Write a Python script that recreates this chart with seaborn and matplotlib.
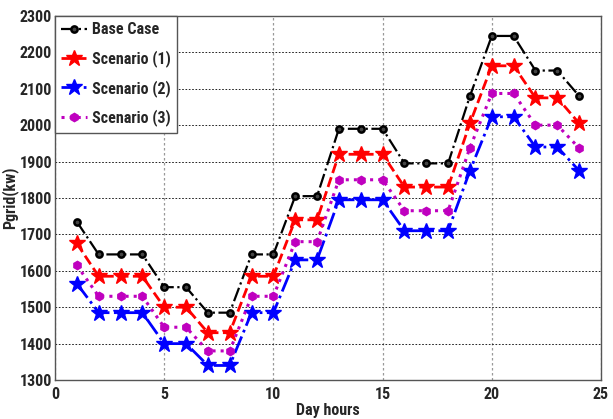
import numpy as np
import pandas as pd
import matplotlib
matplotlib.use('Agg')
import matplotlib.pyplot as plt
import seaborn as sns
from matplotlib import font_manager

# data
hours = list(range(1, 25))
base_case = [1735, 1645, 1645, 1645, 1555, 1555, 1485, 1485, 1645, 1645, 1805, 1805,
             1990, 1990, 1990, 1895, 1895, 1895, 2080, 2245, 2245, 2150, 2150, 2080]
scenario_1 = [1675, 1585, 1585, 1585, 1500, 1500, 1430, 1430, 1585, 1585, 1740, 1740,
              1920, 1920, 1920, 1830, 1830, 1830, 2005, 2163, 2163, 2075, 2075, 2005]
scenario_2 = [1565, 1485, 1485, 1485, 1400, 1400, 1340, 1340, 1485, 1485, 1630, 1630,
              1795, 1795, 1795, 1710, 1710, 1710, 1875, 2023, 2023, 1940, 1940, 1875]
scenario_3 = [1615, 1530, 1530, 1530, 1445, 1445, 1380, 1380, 1530, 1530, 1680, 1680,
              1850, 1850, 1850, 1765, 1765, 1765, 1938, 2087, 2087, 2000, 2000, 1937]
series_names = ['Base Case', 'Scenario (1)', 'Scenario (2)', 'Scenario (3)']


def pick_font():
    # narrow bold font if there is one, else condensed DejaVu
    have = {f.name for f in font_manager.fontManager.ttflist}
    for fam in ['Liberation Sans Narrow', 'Roboto Condensed', 'Open Sans Condensed']:
        if fam in have:
            return fam, 'normal'
    return 'DejaVu Sans', 'condensed'


def main():
    sns.set_style('white')
    fam, stretch = pick_font()
    plt.rcParams['font.family'] = [fam, 'DejaVu Sans']
    plt.rcParams['font.stretch'] = stretch
    plt.rcParams['font.weight'] = 'bold'
    fs = 11.5 if stretch == 'normal' else 10

    df = pd.DataFrame({
        'hour': hours * 4,
        'pgrid': base_case + scenario_1 + scenario_2 + scenario_3,
        'series': sum([[n] * len(hours) for n in series_names], []),
    })

    styles = {
        'Base Case': dict(color='black', ls='-.', marker='o', ms=4.5, mfc='#444444', mew=1.8, lw=1.6),
        'Scenario (1)': dict(color='red', ls='--', marker='*', ms=12, lw=2.0),
        'Scenario (2)': dict(color='blue', ls='-.', marker='*', ms=12, lw=2.0),
        'Scenario (3)': dict(color='m', ls=':', marker='h', ms=6, lw=2.2),
    }

    fig = plt.figure(figsize=(6.13, 4.19), dpi=100)
    ax = fig.add_axes([0.0897, 0.093, 0.8907, 0.869])

    for name in series_names:
        st = styles[name]
        sns.lineplot(data=df[df['series'] == name], x='hour', y='pgrid', ax=ax,
                     color=st['color'], linestyle=st['ls'], marker=st['marker'],
                     markersize=st['ms'], markerfacecolor=st.get('mfc', st['color']),
                     markeredgecolor=st['color'], markeredgewidth=st.get('mew', 1),
                     linewidth=st['lw'], label=name)

    ax.set_xlim(0, 25)
    ax.set_ylim(1300, 2300)
    ax.set_xticks(np.arange(0, 26, 5))
    ax.set_yticks(np.arange(1300, 2301, 100))
    ax.yaxis.grid(True, color='black', linestyle=(0, (2, 2)), linewidth=0.6)
    ax.xaxis.grid(True, color='#999999', linestyle=(0, (2, 2)), linewidth=0.9)
    ax.tick_params(axis='y', labelsize=fs, length=0, pad=2)
    ax.tick_params(axis='x', labelsize=fs, length=0, pad=5)
    for lab in ax.get_xticklabels() + ax.get_yticklabels():
        lab.set_fontweight('bold')
    for sp in ax.spines.values():
        sp.set_color('#555555')
        sp.set_linewidth(1.0)

    ax.set_xlabel('Day hours', fontsize=fs, fontweight='bold', labelpad=1)
    ax.set_ylabel('Pgrid(kw)', fontsize=fs, fontweight='bold', labelpad=1)

    leg = ax.legend(loc='upper left', fontsize=fs, fancybox=False, framealpha=1,
                    edgecolor='#555555', borderaxespad=0, handlelength=1.6,
                    labelspacing=0.8, handletextpad=0.3, borderpad=0.4)
    leg.get_frame().set_linewidth(1.0)

    fig.savefig('out.png', dpi=100)


if __name__ == "__main__":
    main()
